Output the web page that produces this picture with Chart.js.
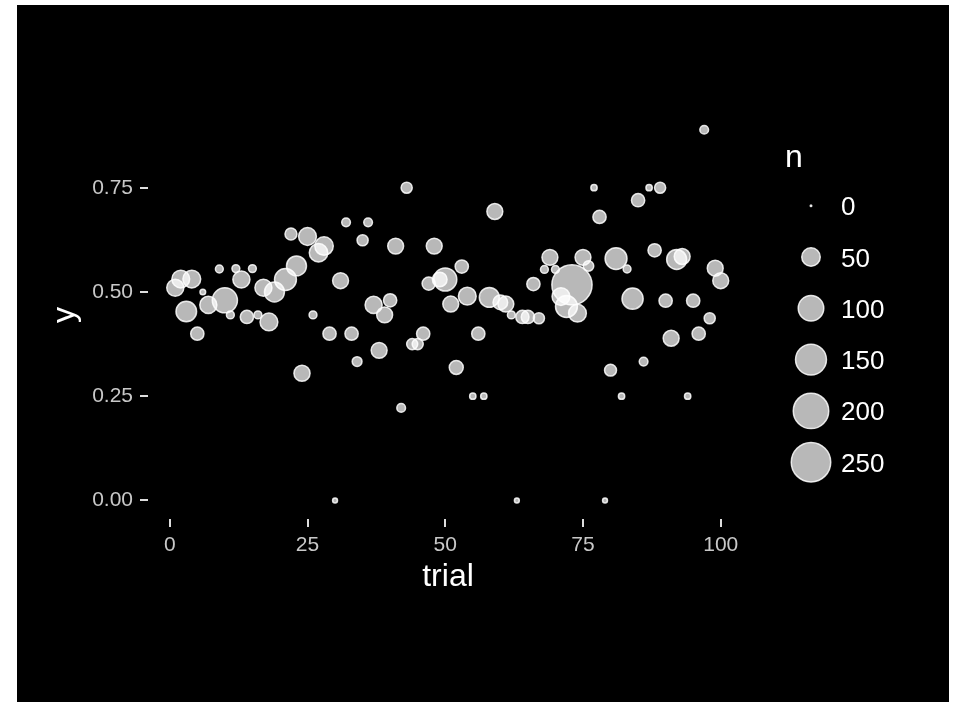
<!DOCTYPE html>
<html>
<head>
<meta charset="utf-8">
<script src="https://cdn.jsdelivr.net/npm/chart.js@4.4.1/dist/chart.umd.min.js"></script>
<style>
  html, body { margin: 0; padding: 0; background: #ffffff; }
  #frame { position: absolute; left: 17px; top: 5px; width: 932px; height: 697px; background: #000000; }
  canvas { display: block; }
</style>
</head>
<body>
<div id="frame"><canvas id="c" width="932" height="697"></canvas></div>
<script>
// Proportion y observed on each trial, with n = number of observations
const trials = [1, 2, 3, 4, 5, 6, 7, 9, 10, 11, 12, 13, 14, 15, 16, 17, 18, 19, 21, 22,
                23, 24, 25, 26, 27, 28, 29, 30, 31, 32, 33, 34, 35, 36, 37, 38, 39, 40, 41, 42,
                43, 44, 45, 46, 47, 48, 49, 50, 51, 52, 53, 54, 55, 56, 57, 58, 59, 60, 61, 62, 63,
                64, 65, 66, 67, 68, 69, 70, 71, 72, 73, 74, 75, 76, 77, 78, 79, 80, 81, 82, 83,
                84, 85, 86, 87, 88, 89, 90, 91, 92, 93, 94, 95, 96, 97, 98, 99, 100];
const yValues = [0.51, 0.531, 0.453, 0.531, 0.40, 0.50, 0.469, 0.555, 0.48, 0.445, 0.556, 0.53, 0.44, 0.556, 0.445, 0.51, 0.428, 0.50, 0.53, 0.639,
                 0.5625, 0.305, 0.633, 0.445, 0.594, 0.61, 0.40, 0.0, 0.527, 0.667, 0.40, 0.333, 0.624, 0.667, 0.469, 0.36, 0.445, 0.48, 0.61, 0.222,
                 0.75, 0.375, 0.375, 0.40, 0.52, 0.61, 0.53, 0.53, 0.471, 0.319, 0.561, 0.49, 0.25, 0.40, 0.25, 0.487, 0.693, 0.475, 0.471, 0.445, 0.0,
                 0.44, 0.44, 0.519, 0.437, 0.554, 0.583, 0.554, 0.489, 0.465, 0.517, 0.449, 0.583, 0.5625, 0.75, 0.68, 0.0, 0.3125, 0.58, 0.25, 0.555,
                 0.484, 0.72, 0.333, 0.75, 0.60, 0.75, 0.479, 0.389, 0.578, 0.585, 0.25, 0.479, 0.40, 0.889, 0.437, 0.557, 0.527];
const nValues = [42, 46, 63, 46, 24, 3, 42, 7, 97, 7, 7, 42, 24, 7, 7, 42, 46, 59, 72, 19,
                 59, 37, 46, 7, 50, 50, 24, 2, 36, 9, 24, 12, 16, 9, 42, 36, 36, 24, 36, 9,
                 16, 16, 16, 24, 24, 36, 30, 81, 36, 27, 24, 46, 4, 24, 4, 59, 36, 30, 36, 7, 2,
                 24, 24, 24, 16, 7, 36, 7, 46, 72, 260, 46, 36, 14, 4, 24, 2, 19, 72, 4, 7,
                 67, 24, 9, 4, 24, 16, 24, 36, 59, 36, 4, 24, 24, 9, 16, 36, 36];

const xTicks = [0, 25, 50, 75, 100];
const yTicks = [0, 0.25, 0.5, 0.75];
const sizeBreaks = [0, 50, 100, 150, 200, 250];

const FONT = '"Liberation Sans", Arial, Helvetica, sans-serif';
const FILL = 'rgba(255,255,255,0.72)';
const EDGE = 'rgba(255,255,255,0.85)';
const EDGE_W = 1.5;

// area-style size scale: outer radius in px for a count n
function outerRadius(n) { return 1.5 + 1.2 * Math.sqrt(n); }

const points = trials.map((t, i) => ({ x: t, y: yValues[i], r: outerRadius(nValues[i]) - EDGE_W / 2 }));

const sizeLegend = {
  id: 'sizeLegend',
  afterDraw(chart) {
    const ctx = chart.ctx;
    ctx.save();
    ctx.fillStyle = '#ffffff';
    ctx.font = '32px ' + FONT;
    ctx.textAlign = 'left';
    ctx.textBaseline = 'alphabetic';
    ctx.fillText('n', 768, 162);
    const cx = 794, cy0 = 200.7, step = 51.3;
    sizeBreaks.forEach((b, i) => {
      const cy = cy0 + i * step;
      ctx.beginPath();
      ctx.arc(cx, cy, Math.max(outerRadius(b) - EDGE_W / 2, 0.5), 0, Math.PI * 2);
      ctx.fillStyle = FILL;
      ctx.fill();
      ctx.lineWidth = EDGE_W;
      ctx.strokeStyle = EDGE;
      ctx.stroke();
      ctx.fillStyle = '#ffffff';
      ctx.font = '26px ' + FONT;
      ctx.fillText(String(b), 824, cy + 9.5);
    });
    ctx.restore();
  }
};

new Chart(document.getElementById('c'), {
  type: 'bubble',
  data: {
    datasets: [{
      label: 'n',
      data: points,
      backgroundColor: FILL,
      borderColor: EDGE,
      borderWidth: EDGE_W,
      hoverRadius: 0,
      hoverBorderWidth: EDGE_W
    }]
  },
  options: {
    responsive: false,
    animation: false,
    events: [],
    layout: { padding: { left: 0, right: 201, top: 106, bottom: 0 } },
    plugins: { legend: { display: false }, tooltip: { enabled: false } },
    scales: {
      x: {
        type: 'linear',
        min: -3.95,
        max: 104.95,
        afterFit: s => { s.height = 183; },
        afterBuildTicks: s => { s.ticks = xTicks.map(v => ({ value: v })); },
        border: { display: false },
        grid: { drawOnChartArea: false, drawTicks: true, tickLength: 8, color: '#dddddd', lineWidth: 2 },
        ticks: { color: '#c8c8c8', font: { family: FONT, size: 21 }, padding: 6, maxRotation: 0,
                 callback: v => String(v) },
        title: { display: true, text: 'trial', color: '#ffffff', font: { family: FONT, size: 32 },
                 padding: { top: 0, bottom: 106 } }
      },
      y: {
        type: 'linear',
        min: -0.0445,
        max: 0.934,
        afterFit: s => { s.width = 131; },
        afterBuildTicks: s => { s.ticks = yTicks.map(v => ({ value: v })); },
        border: { display: false },
        grid: { drawOnChartArea: false, drawTicks: true, tickLength: 8, color: '#dddddd', lineWidth: 2 },
        ticks: { color: '#c8c8c8', font: { family: FONT, size: 21 }, padding: 7,
                 callback: v => Number(v).toFixed(2) },
        title: { display: true, text: 'y', color: '#ffffff', font: { family: FONT, size: 32 },
                 padding: { top: 29, bottom: 0 } }
      }
    }
  },
  plugins: [sizeLegend]
});
</script>
</body>
</html>
